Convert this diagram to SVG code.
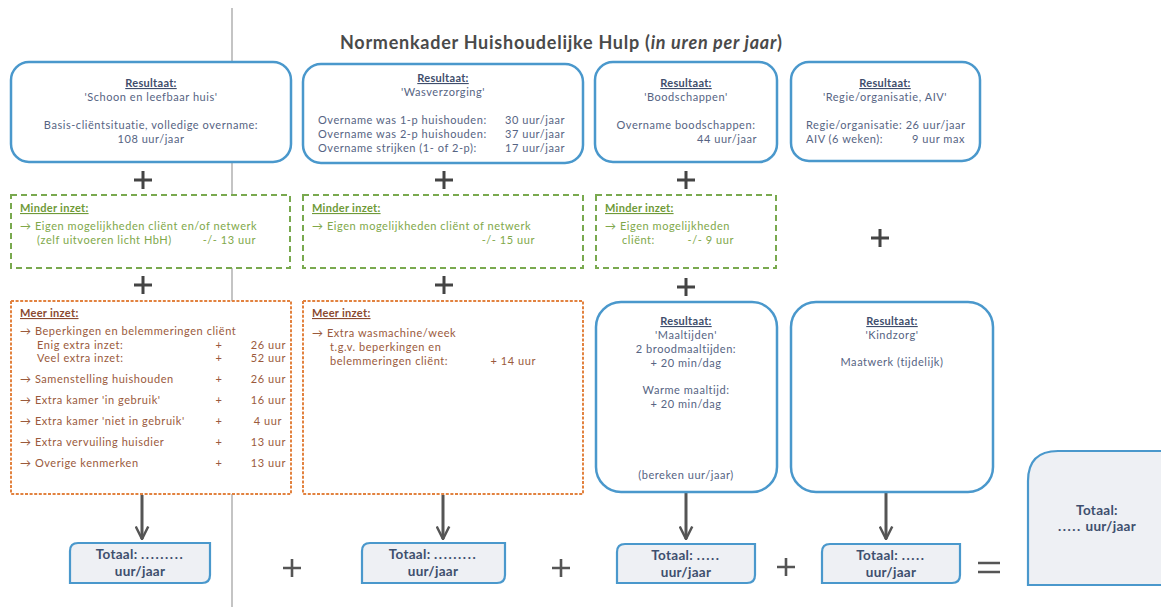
<svg xmlns="http://www.w3.org/2000/svg" width="1161" height="607" viewBox="0 0 1161 607">
<style>
text{font-family:Lato,"Liberation Sans",sans-serif;}
.res{fill:#fff;stroke:#4a98cc;stroke-width:2.5}
.grn{fill:#fff;stroke:#79a94f;stroke-width:2;stroke-dasharray:6 4}
.org{fill:#fff;stroke:#e2823f;stroke-width:2;stroke-dasharray:3 1.6}
.tot{fill:#eef0f4;stroke:#4a98cc;stroke-width:2.2}
.b,.bh,.g,.gh,.o,.oh{font-size:11px;letter-spacing:0.55px}
.b{fill:#566483}
.bh{fill:#3f4d6c;font-weight:bold;text-decoration:underline;letter-spacing:0.3px}
.g{fill:#80a84a}
.gh{fill:#6f9a38;font-weight:bold;text-decoration:underline;letter-spacing:0.3px}
.o{fill:#9a5a3c}
.oh{fill:#8a4a30;font-weight:bold;text-decoration:underline;letter-spacing:0.3px}
.t{fill:#3e4f6e;font-size:13.5px;font-weight:bold;letter-spacing:0.3px}
.d{letter-spacing:1.6px}
.plus{stroke:#444;stroke-width:3;fill:none}
.plus2{stroke:#555;stroke-width:2.6;fill:none}
.arr{stroke:#555;stroke-width:3;fill:none}
</style>
<defs>
<marker id="ah" viewBox="0 0 12 12" refX="11" refY="6" markerWidth="5" markerHeight="5" orient="auto" markerUnits="strokeWidth">
<path d="M1,1 L11,6 L1,11" fill="none" stroke="#555" stroke-width="2"/>
</marker>
<path id="p1" d="M-9,0 H9 M0,-9 V9"/>
<path id="p2" d="M-9,0 H9 M0,-9 V9"/>
</defs>
<rect width="1161" height="607" fill="#fff"/>
<line x1="232" y1="8" x2="232" y2="607" stroke="#b0b0b0" stroke-width="1.5"/>
<text x="340" y="49" font-size="18" font-weight="bold" fill="#4a4a4a" textLength="442" lengthAdjust="spacing">Normenkader Huishoudelijke Hulp (<tspan font-style="italic">in uren per jaar</tspan>)</text>

<g id="connectors">
<line class="arr" x1="142" y1="495" x2="142" y2="539" marker-end="url(#ah)"/>
<line class="arr" x1="443" y1="495" x2="443" y2="539" marker-end="url(#ah)"/>
<line class="arr" x1="686" y1="493" x2="686" y2="539" marker-end="url(#ah)"/>
<line class="arr" x1="886" y1="493" x2="886" y2="539" marker-end="url(#ah)"/>
</g>

<g id="operators">
<use href="#p1" class="plus" x="143" y="180"/>
<use href="#p1" class="plus" x="444" y="180"/>
<use href="#p1" class="plus" x="686" y="180"/>
<use href="#p1" class="plus" x="880" y="238"/>
<use href="#p1" class="plus" x="143" y="285"/>
<use href="#p1" class="plus" x="444" y="285"/>
<use href="#p1" class="plus" x="686" y="287"/>
<use href="#p2" class="plus2" x="292" y="568"/>
<use href="#p2" class="plus2" x="561" y="568"/>
<use href="#p2" class="plus2" x="786" y="567"/>
<path d="M978,563 H1000 M978,572 H1000" class="plus2"/>
</g>

<g id="res1">
<rect class="res" x="11" y="62" width="280" height="100" rx="18"/>
<text class="bh" x="151" y="87" text-anchor="middle">Resultaat:</text>
<text class="b" x="151" y="101" text-anchor="middle">'Schoon en leefbaar huis'</text>
<text class="b" x="151" y="129" text-anchor="middle">Basis-cliëntsituatie, volledige overname:</text>
<text class="b" x="151" y="143" text-anchor="middle">108 uur/jaar</text>
</g>
<g id="res2">
<rect class="res" x="303" y="64" width="280" height="99" rx="18"/>
<text class="bh" x="443" y="82" text-anchor="middle">Resultaat:</text>
<text class="b" x="443" y="96" text-anchor="middle">'Wasverzorging'</text>
<text class="b" x="318" y="124">Overname was 1-p huishouden:</text>
<text class="b" x="318" y="138">Overname was 2-p huishouden:</text>
<text class="b" x="318" y="152">Overname strijken (1- of 2-p):</text>
<text class="b" x="565" y="124" text-anchor="end">30 uur/jaar</text>
<text class="b" x="565" y="138" text-anchor="end">37 uur/jaar</text>
<text class="b" x="565" y="152" text-anchor="end">17 uur/jaar</text>
</g>
<g id="res3">
<rect class="res" x="595" y="62" width="182" height="100" rx="18"/>
<text class="bh" x="686" y="87" text-anchor="middle">Resultaat:</text>
<text class="b" x="686" y="101" text-anchor="middle">'Boodschappen'</text>
<text class="b" x="686" y="129" text-anchor="middle">Overname boodschappen:</text>
<text class="b" x="757" y="143" text-anchor="end">44 uur/jaar</text>
</g>
<g id="res4">
<rect class="res" x="791" y="62" width="189" height="99" rx="18"/>
<text class="bh" x="885" y="87" text-anchor="middle">Resultaat:</text>
<text class="b" x="885" y="101" text-anchor="middle">'Regie/organisatie, AIV'</text>
<text class="b" x="806" y="129">Regie/organisatie: 26 uur/jaar</text>
<text class="b" x="806" y="143">AIV (6 weken):</text>
<text class="b" x="965" y="143" text-anchor="end">9 uur max</text>
</g>

<g id="minder1">
<rect class="grn" x="11" y="195" width="279" height="73"/>
<text class="gh" x="20" y="212">Minder inzet:</text>
<text class="g" x="20" y="230">→ Eigen mogelijkheden cliënt en/of netwerk</text>
<text class="g" x="37" y="244">(zelf uitvoeren licht HbH)</text>
<text class="g" x="256" y="244" text-anchor="end">-/- 13 uur</text>
</g>
<g id="minder2">
<rect class="grn" x="303" y="195" width="280" height="73"/>
<text class="gh" x="312" y="212">Minder inzet:</text>
<text class="g" x="312" y="230">→ Eigen mogelijkheden cliënt of netwerk</text>
<text class="g" x="535" y="244" text-anchor="end">-/- 15 uur</text>
</g>
<g id="minder3">
<rect class="grn" x="596" y="195" width="180" height="73"/>
<text class="gh" x="605" y="212">Minder inzet:</text>
<text class="g" x="605" y="230">→ Eigen mogelijkheden</text>
<text class="g" x="622" y="244">cliënt:</text>
<text class="g" x="734" y="244" text-anchor="end">-/- 9 uur</text>
</g>

<g id="meer1">
<rect class="org" x="11" y="301" width="280" height="193"/>
<text class="oh" x="20" y="317">Meer inzet:</text>
<text class="o" x="20" y="335">→ Beperkingen en belemmeringen cliënt</text>
<text class="o" x="37" y="349">Enig extra inzet:</text>
<text class="o" x="37" y="362">Veel extra inzet:</text>
<text class="o" x="20" y="383">→ Samenstelling huishouden</text>
<text class="o" x="20" y="404">→ Extra kamer 'in gebruik'</text>
<text class="o" x="20" y="425">→ Extra kamer 'niet in gebruik'</text>
<text class="o" x="20" y="446">→ Extra vervuiling huisdier</text>
<text class="o" x="20" y="467">→ Overige kenmerken</text>
<g class="o" text-anchor="middle">
<text x="219" y="349">+</text><text x="219" y="362">+</text><text x="219" y="383">+</text>
<text x="219" y="404">+</text><text x="219" y="425">+</text><text x="219" y="446">+</text><text x="219" y="467">+</text>
</g>
<g class="o" text-anchor="end">
<text x="286" y="349">26  uur</text><text x="286" y="362">52 uur</text><text x="286" y="383">26 uur</text>
<text x="286" y="404">16 uur</text><text x="282" y="425">4 uur</text><text x="286" y="446">13 uur</text><text x="286" y="467">13 uur</text>
</g>
</g>
<g id="meer2">
<rect class="org" x="303" y="301" width="280" height="193"/>
<text class="oh" x="312" y="317">Meer inzet:</text>
<text class="o" x="312" y="337">→ Extra wasmachine/week</text>
<text class="o" x="330" y="351">t.g.v. beperkingen en</text>
<text class="o" x="330" y="365">belemmeringen cliënt:</text>
<text class="o" x="536" y="365" text-anchor="end">+ 14 uur</text>
</g>

<g id="maaltijden">
<rect class="res" x="596" y="302" width="181" height="190" rx="25"/>
<text class="bh" x="686" y="325" text-anchor="middle">Resultaat:</text>
<text class="b" x="686" y="339" text-anchor="middle">'Maaltijden'</text>
<text class="b" x="686" y="353" text-anchor="middle">2 broodmaaltijden:</text>
<text class="b" x="686" y="367" text-anchor="middle">+ 20 min/dag</text>
<text class="b" x="686" y="394" text-anchor="middle">Warme maaltijd:</text>
<text class="b" x="686" y="408" text-anchor="middle">+ 20 min/dag</text>
<text class="b" x="686" y="479" text-anchor="middle">(bereken uur/jaar)</text>
</g>
<g id="kindzorg">
<rect class="res" x="791" y="302" width="202" height="190" rx="25"/>
<text class="bh" x="892" y="325" text-anchor="middle">Resultaat:</text>
<text class="b" x="892" y="339" text-anchor="middle">'Kindzorg'</text>
<text class="b" x="892" y="366" text-anchor="middle">Maatwerk (tijdelijk)</text>
</g>

<g id="totaal1">
<path class="tot" d="M78,543 H210 V575 Q210,583 202,583 H70 V551 Q70,543 78,543 Z"/>
<text class="t" x="140" y="559" text-anchor="middle">Totaal:  <tspan class="d">.........</tspan></text>
<text class="t" x="140" y="576" text-anchor="middle">uur/jaar</text>
</g>
<g id="totaal2">
<path class="tot" d="M370,543 H505 V575 Q505,583 497,583 H362 V551 Q362,543 370,543 Z"/>
<text class="t" x="433" y="559" text-anchor="middle">Totaal:  <tspan class="d">.........</tspan></text>
<text class="t" x="433" y="576" text-anchor="middle">uur/jaar</text>
</g>
<g id="totaal3">
<path class="tot" d="M625,544 H755 V575 Q755,583 747,583 H617 V552 Q617,544 625,544 Z"/>
<text class="t" x="686" y="560" text-anchor="middle">Totaal:  <tspan class="d">.....</tspan></text>
<text class="t" x="686" y="577" text-anchor="middle">uur/jaar</text>
</g>
<g id="totaal4">
<path class="tot" d="M830,544 H960 V575 Q960,583 952,583 H822 V552 Q822,544 830,544 Z"/>
<text class="t" x="891" y="560" text-anchor="middle">Totaal:  <tspan class="d">.....</tspan></text>
<text class="t" x="891" y="577" text-anchor="middle">uur/jaar</text>
</g>
<g id="totaal">
<path class="tot" d="M1058,451 H1170 V585 H1028 V481 Q1028,451 1058,451 Z"/>
<text class="t" x="1097" y="515" text-anchor="middle">Totaal:</text>
<text class="t" x="1097" y="531" text-anchor="middle"><tspan class="d">.....</tspan> uur/jaar</text>
</g>
</svg>
